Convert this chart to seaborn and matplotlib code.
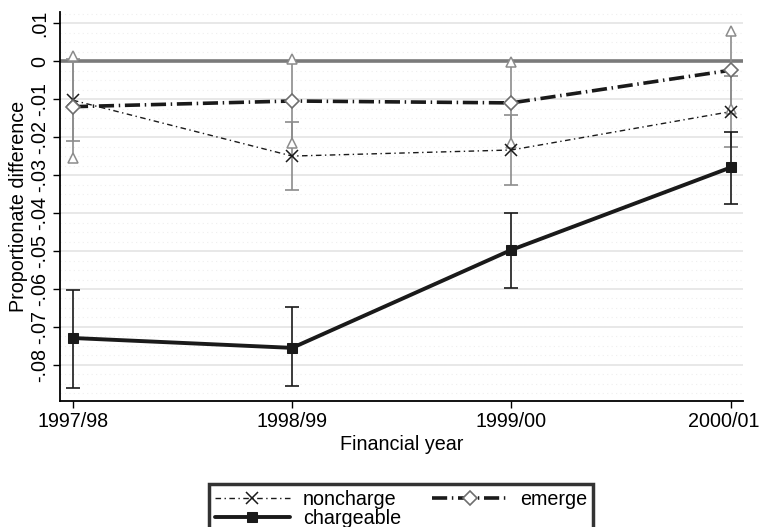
import numpy as np
import pandas as pd
import matplotlib
matplotlib.use('Agg')
import matplotlib.pyplot as plt
import matplotlib.transforms as mtransforms
import seaborn as sns

# values
years = ['1997/98', '1998/99', '1999/00', '2000/01']

noncharge = [-0.0103, -0.0250, -0.0234, -0.0133]
noncharge_lo = [-0.0210, -0.0340, -0.0325, -0.0226]
noncharge_hi = [0.0005, -0.0160, -0.0143, -0.0040]

emerge = [-0.0120, -0.0105, -0.0110, -0.0024]
emerge_lo = [-0.0256, -0.0215, -0.0215, -0.0127]
emerge_hi = [0.0013, 0.0005, -0.0003, 0.0079]

chargeable = [-0.0729, -0.0755, -0.0497, -0.0280]
chargeable_lo = [-0.0860, -0.0855, -0.0597, -0.0376]
chargeable_hi = [-0.0603, -0.0648, -0.0400, -0.0187]

yticks = [0.01, 0, -0.01, -0.02, -0.03, -0.04, -0.05, -0.06, -0.07, -0.08]

pos = np.arange(len(years))
df = pd.DataFrame({'pos': pos, 'noncharge': noncharge, 'emerge': emerge,
                   'chargeable': chargeable})

FS = 14.2

sns.set_style('white')
plt.rcParams['font.family'] = ['Liberation Sans', 'DejaVu Sans']
plt.rcParams['font.size'] = FS
plt.rcParams['text.color'] = 'black'
plt.rcParams['axes.labelcolor'] = 'black'
plt.rcParams['xtick.color'] = 'black'
plt.rcParams['ytick.color'] = 'black'

fig = plt.figure(figsize=(7.61, 5.27), dpi=100)
ax = fig.add_axes([0.0788, 0.239, 0.976 - 0.0788, 0.977 - 0.239])

# faint background grid
ax.set_yticks(np.arange(-0.09, 0.0151, 0.0025), minor=True)
ax.grid(axis='y', which='minor', color='#efefef', linestyle=(0, (1, 3)), lw=0.8)
ax.grid(axis='y', which='major', color='#e4e4e4', lw=1.2)
ax.set_axisbelow(True)

ax.axhline(0, color='#7a7a7a', lw=2.6, zorder=1)

# confidence intervals
grey = '#8c8c8c'
ax.vlines(pos, emerge_lo, emerge_hi, color=grey, lw=1.2, zorder=2)
ax.plot(pos, emerge_hi, '^', ms=6.5, mfc='white', mec=grey, mew=1.1, zorder=3)
ax.plot(pos, emerge_lo, '^', ms=6.5, mfc='white', mec=grey, mew=1.1, zorder=3)
ax.errorbar(pos, noncharge,
            yerr=[np.array(noncharge) - np.array(noncharge_lo),
                  np.array(noncharge_hi) - np.array(noncharge)],
            fmt='none', ecolor=grey, elinewidth=1.2, capsize=4.7, capthick=1.2, zorder=2)
ax.errorbar(pos, chargeable,
            yerr=[np.array(chargeable) - np.array(chargeable_lo),
                  np.array(chargeable_hi) - np.array(chargeable)],
            fmt='none', ecolor='#1a1a1a', elinewidth=1.2, capsize=4.7, capthick=1.2, zorder=2)

# series lines
sns.lineplot(data=df, x='pos', y='noncharge', ax=ax, color='#1a1a1a', lw=1.0,
             linestyle=(0, (4, 2.5, 1, 2.5)), marker='x', markersize=8,
             markeredgewidth=1.1, markeredgecolor='#1a1a1a', label='noncharge', zorder=4)
sns.lineplot(data=df, x='pos', y='emerge', ax=ax, color='#1a1a1a', lw=2.6,
             linestyle=(0, (4.2, 1.3, 0.4, 1.3)), marker='D', markersize=7,
             markerfacecolor='white', markeredgecolor='#6e6e6e', markeredgewidth=1.2,
             label='emerge', zorder=4)
sns.lineplot(data=df, x='pos', y='chargeable', ax=ax, color='#1a1a1a', lw=2.8,
             marker='s', markersize=7, markeredgecolor='#1a1a1a', label='chargeable', zorder=5)

ax.set_xlim(-0.059, 3.055)
ax.set_ylim(-0.0895, 0.0129)
ax.set_xticks(pos)
ax.set_xticklabels(years)
ax.set_yticks(yticks)


def fmt(v):
    if abs(v) < 1e-12:
        return '0'
    s = f'{v:.2f}'
    return s.replace('0.', '.')


ax.set_yticklabels([fmt(v) for v in yticks], rotation=90, va='center')
ax.tick_params(axis='both', which='major', direction='out', length=5, width=1,
               color='black', labelcolor='black', labelsize=FS,
               bottom=True, left=True, pad=3)
ax.tick_params(axis='y', which='minor', length=0)

# keep the last year label inside the figure
last = ax.get_xticklabels()[-1]
last.set_transform(last.get_transform() +
                   mtransforms.ScaledTranslation(-7 / 100, 0, fig.dpi_scale_trans))

for side in ['top', 'right']:
    ax.spines[side].set_visible(False)
for side in ['left', 'bottom']:
    ax.spines[side].set_color('black')
    ax.spines[side].set_linewidth(1.3)

ax.set_xlabel('Financial year', fontsize=FS, labelpad=3)
ax.set_ylabel('Proportionate difference', fontsize=FS, labelpad=1)

handles, labels = ax.get_legend_handles_labels()
ax.get_legend().remove()
order = ['noncharge', 'chargeable', 'emerge']
hmap = dict(zip(labels, handles))
leg = fig.legend([hmap[k] for k in order], order, ncol=2, loc='upper center',
                 bbox_to_anchor=(0.527, 0.081), borderaxespad=0, frameon=True,
                 fancybox=False, fontsize=FS, handlelength=3.8, columnspacing=1.6,
                 borderpad=0.3, labelspacing=0.0, handletextpad=0.65)
leg.get_frame().set_edgecolor('black')
leg.get_frame().set_linewidth(2.5)

fig.savefig('out.png', dpi=100)
